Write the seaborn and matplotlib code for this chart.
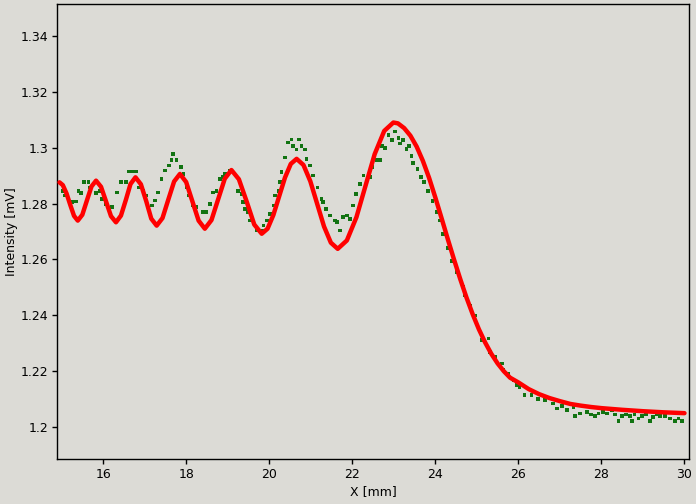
import numpy as np
import pandas as pd
import seaborn as sns
import matplotlib.pyplot as plt
from matplotlib.ticker import FuncFormatter

# measured points (green)
data_x = [15.03, 15.08, 15.25, 15.35, 15.41, 15.46, 15.54, 15.65, 15.69, 15.83,
          15.91, 15.97, 16.07, 16.21, 16.33, 16.43, 16.55, 16.61, 16.69, 16.80,
          16.85, 16.97, 17.04, 17.17, 17.25, 17.33, 17.41, 17.49, 17.59, 17.65,
          17.69, 17.77, 17.87, 17.94, 18.01, 18.07, 18.17, 18.25, 18.41, 18.49,
          18.57, 18.65, 18.73, 18.81, 18.88, 18.93, 19.05, 19.25, 19.33, 19.37,
          19.41, 19.49, 19.53, 19.70, 19.82, 19.86, 19.94, 20.02, 20.10, 20.14,
          20.22, 20.26, 20.30, 20.38, 20.46, 20.54, 20.58, 20.66, 20.72, 20.78,
          20.86, 20.90, 20.98, 21.06, 21.16, 21.26, 21.30, 21.37, 21.46, 21.58,
          21.64, 21.70, 21.78, 21.88, 21.94, 22.02, 22.09, 22.19, 22.27, 22.43,
          22.47, 22.59, 22.67, 22.71, 22.79, 22.87, 22.95, 23.03, 23.11, 23.15,
          23.23, 23.31, 23.37, 23.43, 23.47, 23.57, 23.65, 23.73, 23.83, 23.93,
          24.03, 24.11, 24.19, 24.30, 24.40, 24.52, 24.68, 24.72, 24.84, 24.96,
          25.12, 25.28, 25.32, 25.45, 25.60, 25.64, 25.76, 25.88, 25.96, 26.03,
          26.15, 26.32, 26.48, 26.64, 26.84, 26.93, 27.05, 27.17, 27.33, 27.37,
          27.49, 27.65, 27.75, 27.85, 27.93, 28.03, 28.13, 28.25, 28.33, 28.41,
          28.49, 28.59, 28.69, 28.73, 28.80, 28.89, 28.97, 29.07, 29.17, 29.25,
          29.33, 29.41, 29.53, 29.65, 29.77, 29.86, 29.94]
data_y = [1.2846, 1.2829, 1.2805, 1.2807, 1.2844, 1.2837, 1.2876, 1.2876, 1.2858, 1.2837,
          1.2844, 1.2817, 1.2799, 1.2787, 1.2840, 1.2876, 1.2876, 1.2915, 1.2915, 1.2915,
          1.2858, 1.2846, 1.2829, 1.2793, 1.2811, 1.2840, 1.2888, 1.2918, 1.2936, 1.2956,
          1.2978, 1.2956, 1.2930, 1.2906, 1.2858, 1.2829, 1.2793, 1.2787, 1.2769, 1.2769,
          1.2799, 1.2840, 1.2846, 1.2888, 1.2894, 1.2906, 1.2918, 1.2846, 1.2835, 1.2805,
          1.2781, 1.2769, 1.2739, 1.2704, 1.2704, 1.2721, 1.2739, 1.2763, 1.2793, 1.2829,
          1.2846, 1.2876, 1.2912, 1.2965, 1.3019, 1.3029, 1.3005, 1.2993, 1.3029, 1.3007,
          1.2993, 1.2960, 1.2936, 1.2900, 1.2858, 1.2817, 1.2805, 1.2781, 1.2757, 1.2739,
          1.2733, 1.2704, 1.2751, 1.2757, 1.2745, 1.2793, 1.2835, 1.2870, 1.2900, 1.2894,
          1.2930, 1.2956, 1.2956, 1.3007, 1.2999, 1.3046, 1.3027, 1.3058, 1.3035, 1.3015,
          1.3027, 1.2995, 1.3007, 1.2971, 1.2944, 1.2924, 1.2896, 1.2876, 1.2845, 1.2808,
          1.2770, 1.2739, 1.2690, 1.2640, 1.2595, 1.2555, 1.2501, 1.2471, 1.2435, 1.2400,
          1.2311, 1.2317, 1.2269, 1.2250, 1.2228, 1.2204, 1.2192, 1.2168, 1.2150, 1.2144,
          1.2114, 1.2114, 1.2100, 1.2096, 1.2085, 1.2067, 1.2075, 1.2061, 1.2073, 1.2040,
          1.2049, 1.2055, 1.2045, 1.2040, 1.2049, 1.2055, 1.2049, 1.2061, 1.2045, 1.2023,
          1.2040, 1.2045, 1.2040, 1.2023, 1.2045, 1.2031, 1.2040, 1.2045, 1.2023, 1.2037,
          1.2045, 1.2040, 1.2040, 1.2031, 1.2023, 1.2031, 1.2023]

# fitted curve (red)
fit_x = [14.95, 15.03, 15.12, 15.21, 15.30, 15.39, 15.50, 15.61, 15.72, 15.83,
         15.95, 16.07, 16.19, 16.31, 16.43, 16.55, 16.66, 16.78, 16.91, 17.04,
         17.16, 17.29, 17.43, 17.57, 17.71, 17.85, 18.00, 18.15, 18.30, 18.45,
         18.61, 18.77, 18.93, 19.09, 19.27, 19.46, 19.64, 19.82, 19.96, 20.10,
         20.24, 20.38, 20.52, 20.66, 20.825, 20.99, 21.155, 21.32, 21.485, 21.65,
         21.87, 22.10, 22.32, 22.54, 22.77, 22.99, 23.10, 23.25, 23.40, 23.55,
         23.70, 23.85, 24.00, 24.15, 24.30, 24.45, 24.60, 24.75, 24.90, 25.05,
         25.20, 25.35, 25.50, 25.65, 25.80, 26.00, 26.25, 26.50, 26.75, 27.00,
         27.25, 27.50, 27.75, 28.00, 28.50, 29.00, 29.50, 30.00]
fit_y = [1.2876, 1.2866, 1.2836, 1.2795, 1.2756, 1.2739, 1.2760, 1.2811, 1.2861, 1.2882,
         1.2860, 1.2808, 1.2755, 1.2733, 1.2757, 1.2814, 1.2870, 1.2894, 1.2869, 1.2808,
         1.2746, 1.2721, 1.2748, 1.2814, 1.2879, 1.2906, 1.2877, 1.2808, 1.2739, 1.2710,
         1.2741, 1.2815, 1.2889, 1.2920, 1.2887, 1.2806, 1.2725, 1.2692, 1.2710, 1.2759,
         1.2826, 1.2893, 1.2942, 1.2960, 1.2938, 1.2880, 1.2799, 1.2718, 1.2660, 1.2638,
         1.2668, 1.2751, 1.2864, 1.2977, 1.3060, 1.3090, 1.3087, 1.3070, 1.3043, 1.3004,
         1.2953, 1.2892, 1.2822, 1.2748, 1.2673, 1.2600, 1.2530, 1.2464, 1.2404, 1.2350,
         1.2303, 1.2262, 1.2228, 1.2200, 1.2177, 1.2160, 1.2136, 1.2118, 1.2104, 1.2093,
         1.2083, 1.2077, 1.2072, 1.2068, 1.2062, 1.2057, 1.2053, 1.2050]

x_ticks = [16, 18, 20, 22, 24, 26, 28, 30]
y_ticks = [1.2, 1.22, 1.24, 1.26, 1.28, 1.3, 1.32, 1.34]

bg = '#dcdbd6'
meas = pd.DataFrame({'x': data_x, 'y': data_y})
fit = pd.DataFrame({'x': fit_x, 'y': fit_y})

plt.rcParams['font.family'] = ['DejaVu Sans']
fig = plt.figure(figsize=(6.96, 5.04), dpi=100, facecolor=bg)
ax = fig.add_axes([0.0819, 0.0893, 0.9081, 0.9027], facecolor=bg)

sns.scatterplot(data=meas, x='x', y='y', ax=ax, marker='s', s=7,
                color='#127312', edgecolor='none', linewidth=0, zorder=2)
sns.lineplot(data=fit, x='x', y='y', ax=ax, color='#ff0000', linewidth=3.2,
             estimator=None, sort=True, zorder=3,
             solid_joinstyle='round', solid_capstyle='round')

ax.set_xlim(14.89, 30.11)
ax.set_ylim(1.1886, 1.3514)
ax.set_xticks(x_ticks)
ax.set_yticks(y_ticks)
ax.yaxis.set_major_formatter(FuncFormatter(lambda v, p: f'{v:g}'))
ax.tick_params(labelsize=9, length=3.5, width=1, color='black', pad=3)
for sp in ax.spines.values():
    sp.set_color('black')
    sp.set_linewidth(1.0)
ax.set_xlabel('X [mm]', fontsize=9, labelpad=3)
ax.set_ylabel('Intensity [mV]', fontsize=9, labelpad=1.5)

fig.savefig('out.png', dpi=100, facecolor=bg)
